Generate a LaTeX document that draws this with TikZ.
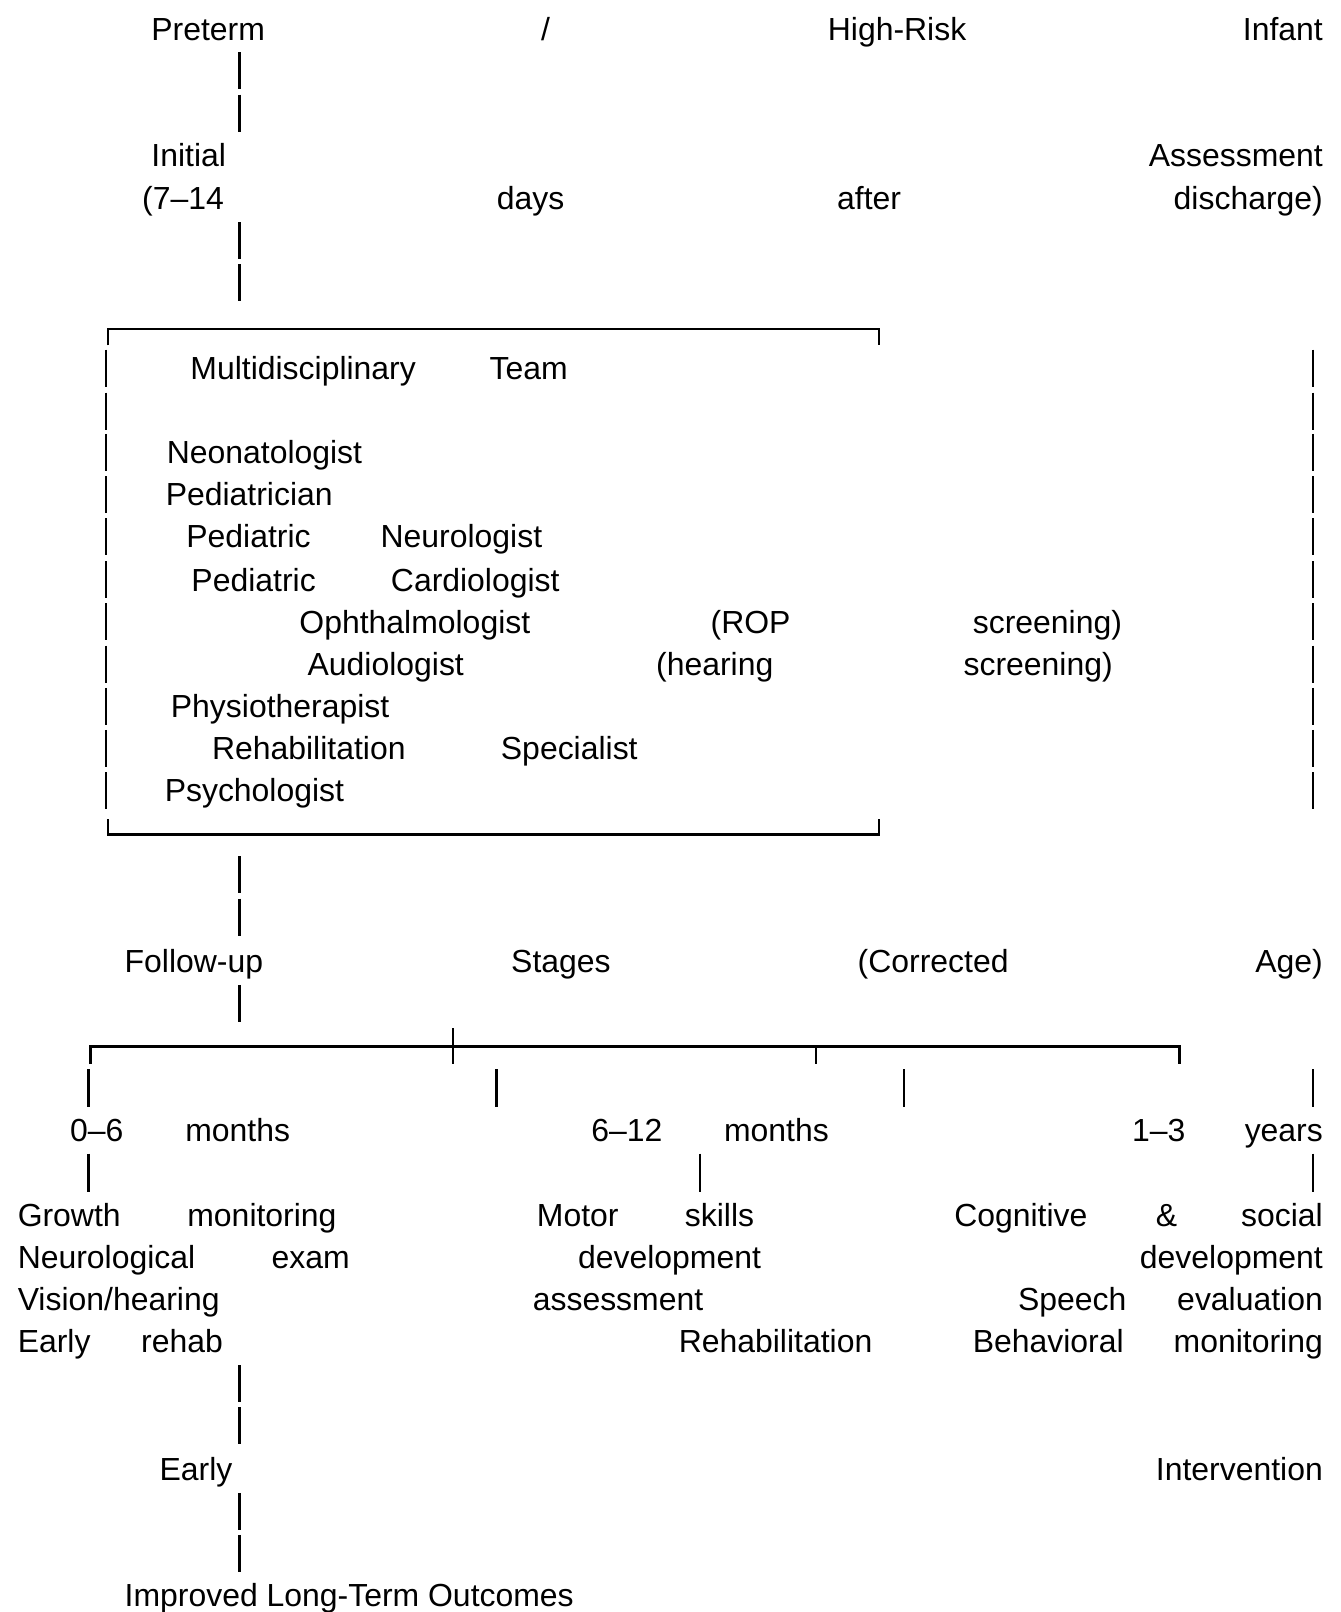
\documentclass[tikz,border=0pt]{standalone}
\usepackage{fontspec}
\setmainfont{Liberation Sans}
\newcommand{\wordsize}{\fontsize{23.3}{28}\selectfont}
\tikzset{
  word/.style={anchor=base west, inner sep=0pt, font=\wordsize},
  wordr/.style={anchor=base east, inner sep=0pt, font=\wordsize},
  bar/.style={line width=1.6pt},
  rule/.style={line width=1.9pt},
}
\begin{document}
\begin{tikzpicture}[x=0.75pt,y=-0.75pt]
    \useasboundingbox (0,0) rectangle (1304,1568);

    % infant and first assessment
    \node[word] (preterm) at (147,39) {Preterm};
    \node[word] (slash) at (526,39) {/};
    \node[word] (highrisk) at (805,39) {High-Risk};
    \node[wordr] (infant) at (1287,39) {Infant};
    \node[word] (initial) at (147,162) {Initial};
    \node[wordr] (assess) at (1287,162) {Assessment};
    \node[word] (days1) at (138,204) {(7–14};
    \node[word] (days2) at (483,204) {days};
    \node[word] (after) at (814,204) {after};
    \node[wordr] (discharge) at (1287,204) {discharge)};

    % team box
    \node[word] (multi) at (185,369) {Multidisciplinary};
    \node[word] (team) at (476,369) {Team};
    \node[word] (neo) at (162,451) {Neonatologist};
    \node[word] (ped) at (161,492) {Pediatrician};
    \node[word] (pedneuA) at (181,533) {Pediatric};
    \node[word] (pedneuB) at (370,533) {Neurologist};
    \node[word] (pedcarA) at (186,575) {Pediatric};
    \node[word] (pedcarB) at (380,575) {Cardiologist};
    \node[word] (ophA) at (291,616) {Ophthalmologist};
    \node[word] (ophB) at (691,616) {(ROP};
    \node[word] (ophC) at (946,616) {screening)};
    \node[word] (audA) at (299,657) {Audiologist};
    \node[word] (audB) at (638,657) {(hearing};
    \node[word] (audC) at (937,657) {screening)};
    \node[word] (physio) at (166,698) {Physiotherapist};
    \node[word] (rehabA) at (206,739) {Rehabilitation};
    \node[word] (rehabB) at (487,739) {Specialist};
    \node[word] (psych) at (160,780) {Psychologist};

    % follow-up stages
    \node[word] (follow) at (121,946) {Follow-up};
    \node[word] (stages) at (497,946) {Stages};
    \node[word] (corr) at (834,946) {(Corrected};
    \node[wordr] (age) at (1287,946) {Age)};
    \node[word] (sA1) at (68,1110) {0–6};
    \node[word] (sA2) at (180,1110) {months};
    \node[word] (sB1) at (575,1110) {6–12};
    \node[word] (sB2) at (704,1110) {months};
    \node[word] (sC1) at (1101,1110) {1–3};
    \node[wordr] (sC2) at (1287,1110) {years};

    \node[word] (growth) at (17,1193) {Growth};
    \node[word] (growthm) at (182,1193) {monitoring};
    \node[word] (motor) at (522,1193) {Motor};
    \node[word] (skills) at (666,1193) {skills};
    \node[word] (cogn) at (928,1193) {Cognitive};
    \node[word] (amp) at (1124,1193) {\&};
    \node[wordr] (social) at (1287,1193) {social};
    \node[word] (neuro) at (17,1234) {Neurological};
    \node[word] (exam) at (264,1234) {exam};
    \node[word] (devB) at (562,1234) {development};
    \node[wordr] (devC) at (1287,1234) {development};
    \node[word] (vision) at (17,1275) {Vision/hearing};
    \node[word] (assB) at (518,1275) {assessment};
    \node[word] (speech) at (990,1275) {Speech};
    \node[wordr] (evalC) at (1287,1275) {evaluation};
    \node[word] (earlyA) at (17,1316) {Early};
    \node[word] (rehabA2) at (137,1316) {rehab};
    \node[word] (rehabB2) at (660,1316) {Rehabilitation};
    \node[word] (behav) at (946,1316) {Behavioral};
    \node[wordr] (monC) at (1287,1316) {monitoring};

    % outcome
    \node[word] (early) at (155,1440) {Early};
    \node[wordr] (interv) at (1287,1440) {Intervention};
    \node[word] (outcome) at (121,1563) {Improved Long-Term Outcomes};

    % trunk bars
    \foreach \r in {69,110,234,275,851,892,976,1346,1387,1470,1511}
        \draw[bar] (233,\r-18) -- (233,\r+18);

    % box frame
    \draw[rule] (105,336) -- (105,320) -- (855,320) -- (855,336);
    \draw[rule] (105,797) -- (105,812) -- (855,812) -- (855,797);
    \foreach \r in {358,400,440,481,522,564,605,646,687,728,769} {
        \draw[bar] (103,\r-18) -- (103,\r+18);
        \draw[bar] (1277,\r-18) -- (1277,\r+18);
    }

    % stage branches
    \draw[rule] (88,1035) -- (88,1018) -- (1147,1018) -- (1147,1035);
    \draw[bar] (441,1000) -- (441,1035);
    \draw[bar] (794,1018) -- (794,1035);
    \foreach \x in {86,483,879,1277}
        \draw[bar] (\x,1040) -- (\x,1077);
    \foreach \x in {86,681,1277}
        \draw[bar] (\x,1122) -- (\x,1159);
\end{tikzpicture}
\end{document}
